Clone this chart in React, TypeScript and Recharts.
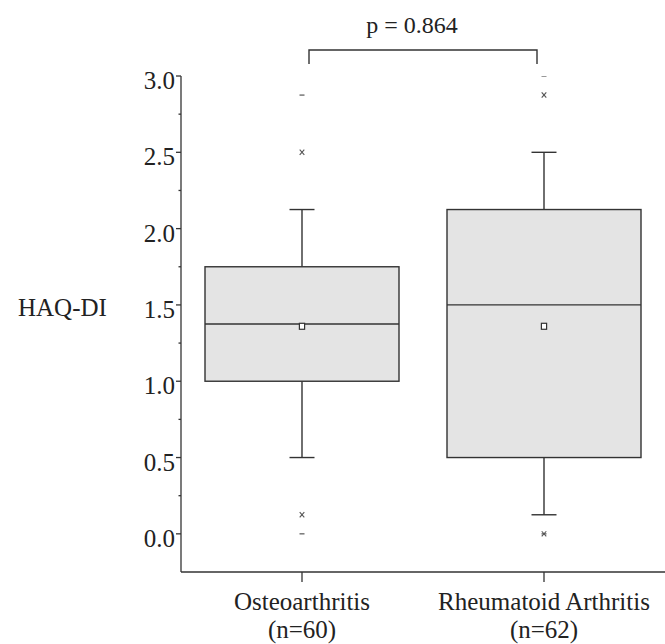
import React from "react";
import { ComposedChart, Bar, XAxis, YAxis, ReferenceLine } from "recharts";

// HAQ-DI box plot, two groups
const categories = ["Osteoarthritis", "Rheumatoid Arthritis"];
const sampleSizes = ["(n=60)", "(n=62)"];
const q1 = [1.0, 0.5];
const median = [1.375, 1.5];
const q3 = [1.75, 2.125];
const whiskerLow = [0.5, 0.125];
const whiskerHigh = [2.125, 2.5];
const mean = [1.36, 1.36];
const pctLow = [0.125, 0.0]; // x markers
const pctHigh = [2.5, 2.875];
const minVal = [0.0, 0.0]; // dash markers
const maxVal = [2.875, 3.0];

const majorTicks = [0, 0.5, 1, 1.5, 2, 2.5, 3];
const minorTicks = [0.25, 0.75, 1.25, 1.75, 2.25, 2.75];
const pValueLabel = "p = 0.864";
const bracketLevel = 3.17;

const INK = "#333";
const FONT = "'Liberation Serif', 'Times New Roman', serif";

const data = categories.map((name, i) => ({
  name,
  q1: q1[i],
  median: median[i],
  q3: q3[i],
  lo: whiskerLow[i],
  hi: whiskerHigh[i],
  mean: mean[i],
  pLo: pctLow[i],
  pHi: pctHigh[i],
  min: minVal[i],
  max: maxVal[i],
}));

function BoxShape(props: any) {
  const { x, y, width, height, payload: p } = props;
  const top = Math.min(y, y + height);
  const h = Math.abs(height);
  const k = h / (p.q3 - p.q1);
  const Y = (v: number) => top + (p.q3 - v) * k;
  const cx = x + width / 2;
  const cap = 12.5;
  const cross = (v: number, key: string) => (
    <g key={key} stroke="#555" strokeWidth={1.1}>
      <line x1={cx - 2.3} x2={cx + 2.3} y1={Y(v) - 2.6} y2={Y(v) + 2.6} />
      <line x1={cx - 2.3} x2={cx + 2.3} y1={Y(v) + 2.6} y2={Y(v) - 2.6} />
    </g>
  );
  const dash = (v: number, key: string) => (
    <line key={key} x1={cx - 2.5} x2={cx + 2.5} y1={Y(v)} y2={Y(v)} stroke="#555" strokeWidth={1.2} />
  );
  return (
    <g>
      <g stroke={INK} strokeWidth={1.4}>
        <line x1={cx} x2={cx} y1={Y(p.q3)} y2={Y(p.hi)} />
        <line x1={cx - cap} x2={cx + cap} y1={Y(p.hi)} y2={Y(p.hi)} />
        <line x1={cx} x2={cx} y1={Y(p.q1)} y2={Y(p.lo)} />
        <line x1={cx - cap} x2={cx + cap} y1={Y(p.lo)} y2={Y(p.lo)} />
      </g>
      <rect x={x} y={top} width={width} height={h} fill="#e4e4e4" stroke={INK} strokeWidth={1.4} />
      <line x1={x} x2={x + width} y1={Y(p.median)} y2={Y(p.median)} stroke={INK} strokeWidth={1.4} />
      <rect x={cx - 2.6} y={Y(p.mean) - 3} width={5.2} height={6} fill="#fff" stroke={INK} strokeWidth={1.2} />
      {cross(p.pLo, "plo")}
      {cross(p.pHi, "phi")}
      {dash(p.min, "min")}
      {dash(p.max, "max")}
    </g>
  );
}

function YTick(props: any) {
  const { x, y, payload } = props;
  const major = majorTicks.includes(payload.value);
  return (
    <g>
      <line x1={x - (major ? 5 : 2.5)} x2={x} y1={y} y2={y} stroke={INK} strokeWidth={1.3} />
      {major && (
        <text x={x - 6} y={y + 13} textAnchor="end" fontFamily={FONT} fontSize={25} fill="#222">
          {payload.value.toFixed(1)}
        </text>
      )}
    </g>
  );
}

function XTick(props: any) {
  const { x, y, payload } = props;
  const i = categories.indexOf(payload.value);
  return (
    <text x={x} y={y} textAnchor="middle" fontFamily={FONT} fontSize={25} fill="#222">
      <tspan x={x} dy={28}>{payload.value}</tspan>
      <tspan x={x} dy={28}>{sampleSizes[i]}</tspan>
    </text>
  );
}

function Bracket(props: any) {
  const { x1, y1, x2 } = props;
  const l = x1 + 7;
  const r = x2 - 7;
  return (
    <g>
      <path d={`M${l},${y1 + 14}V${y1}H${r}V${y1 + 14}`} fill="none" stroke={INK} strokeWidth={1.4} />
      <text x={(l + r) / 2 - 11} y={y1 - 17} textAnchor="middle" fontFamily={FONT} fontSize={24} fill="#222">
        {pValueLabel}
      </text>
    </g>
  );
}

export default function App() {
  return (
    <div style={{ position: "absolute", left: 0, top: 0, background: "#fff" }}>
      <ComposedChart
        width={665}
        height={644}
        data={data}
        margin={{ top: 76, right: 0, bottom: 0, left: 0 }}
      >
        <XAxis
          dataKey="name"
          type="category"
          height={72}
          axisLine={{ stroke: INK, strokeWidth: 1.3 }}
          tickLine={{ stroke: INK, strokeWidth: 1.3 }}
          tickSize={10}
          tickMargin={0}
          tick={<XTick />}
          interval={0}
        />
        <YAxis
          type="number"
          width={181}
          domain={[-0.25, 3]}
          allowDataOverflow
          ticks={[...majorTicks, ...minorTicks].sort((a, b) => a - b)}
          interval={0}
          axisLine={{ stroke: INK, strokeWidth: 1.3 }}
          tickLine={false}
          tickSize={0}
          tickMargin={0}
          tick={<YTick />}
          label={() => (
            <text x={18} y={316} fontFamily={FONT} fontSize={25} fill="#222">
              HAQ-DI
            </text>
          )}
        />
        <Bar
          dataKey={(d: any) => [d.q1, d.q3]}
          barSize={194}
          shape={<BoxShape />}
          isAnimationActive={false}
        />
        <ReferenceLine
          segment={[
            { x: categories[0], y: bracketLevel },
            { x: categories[1], y: bracketLevel },
          ]}
          ifOverflow="visible"
          shape={<Bracket />}
        />
      </ComposedChart>
    </div>
  );
}
